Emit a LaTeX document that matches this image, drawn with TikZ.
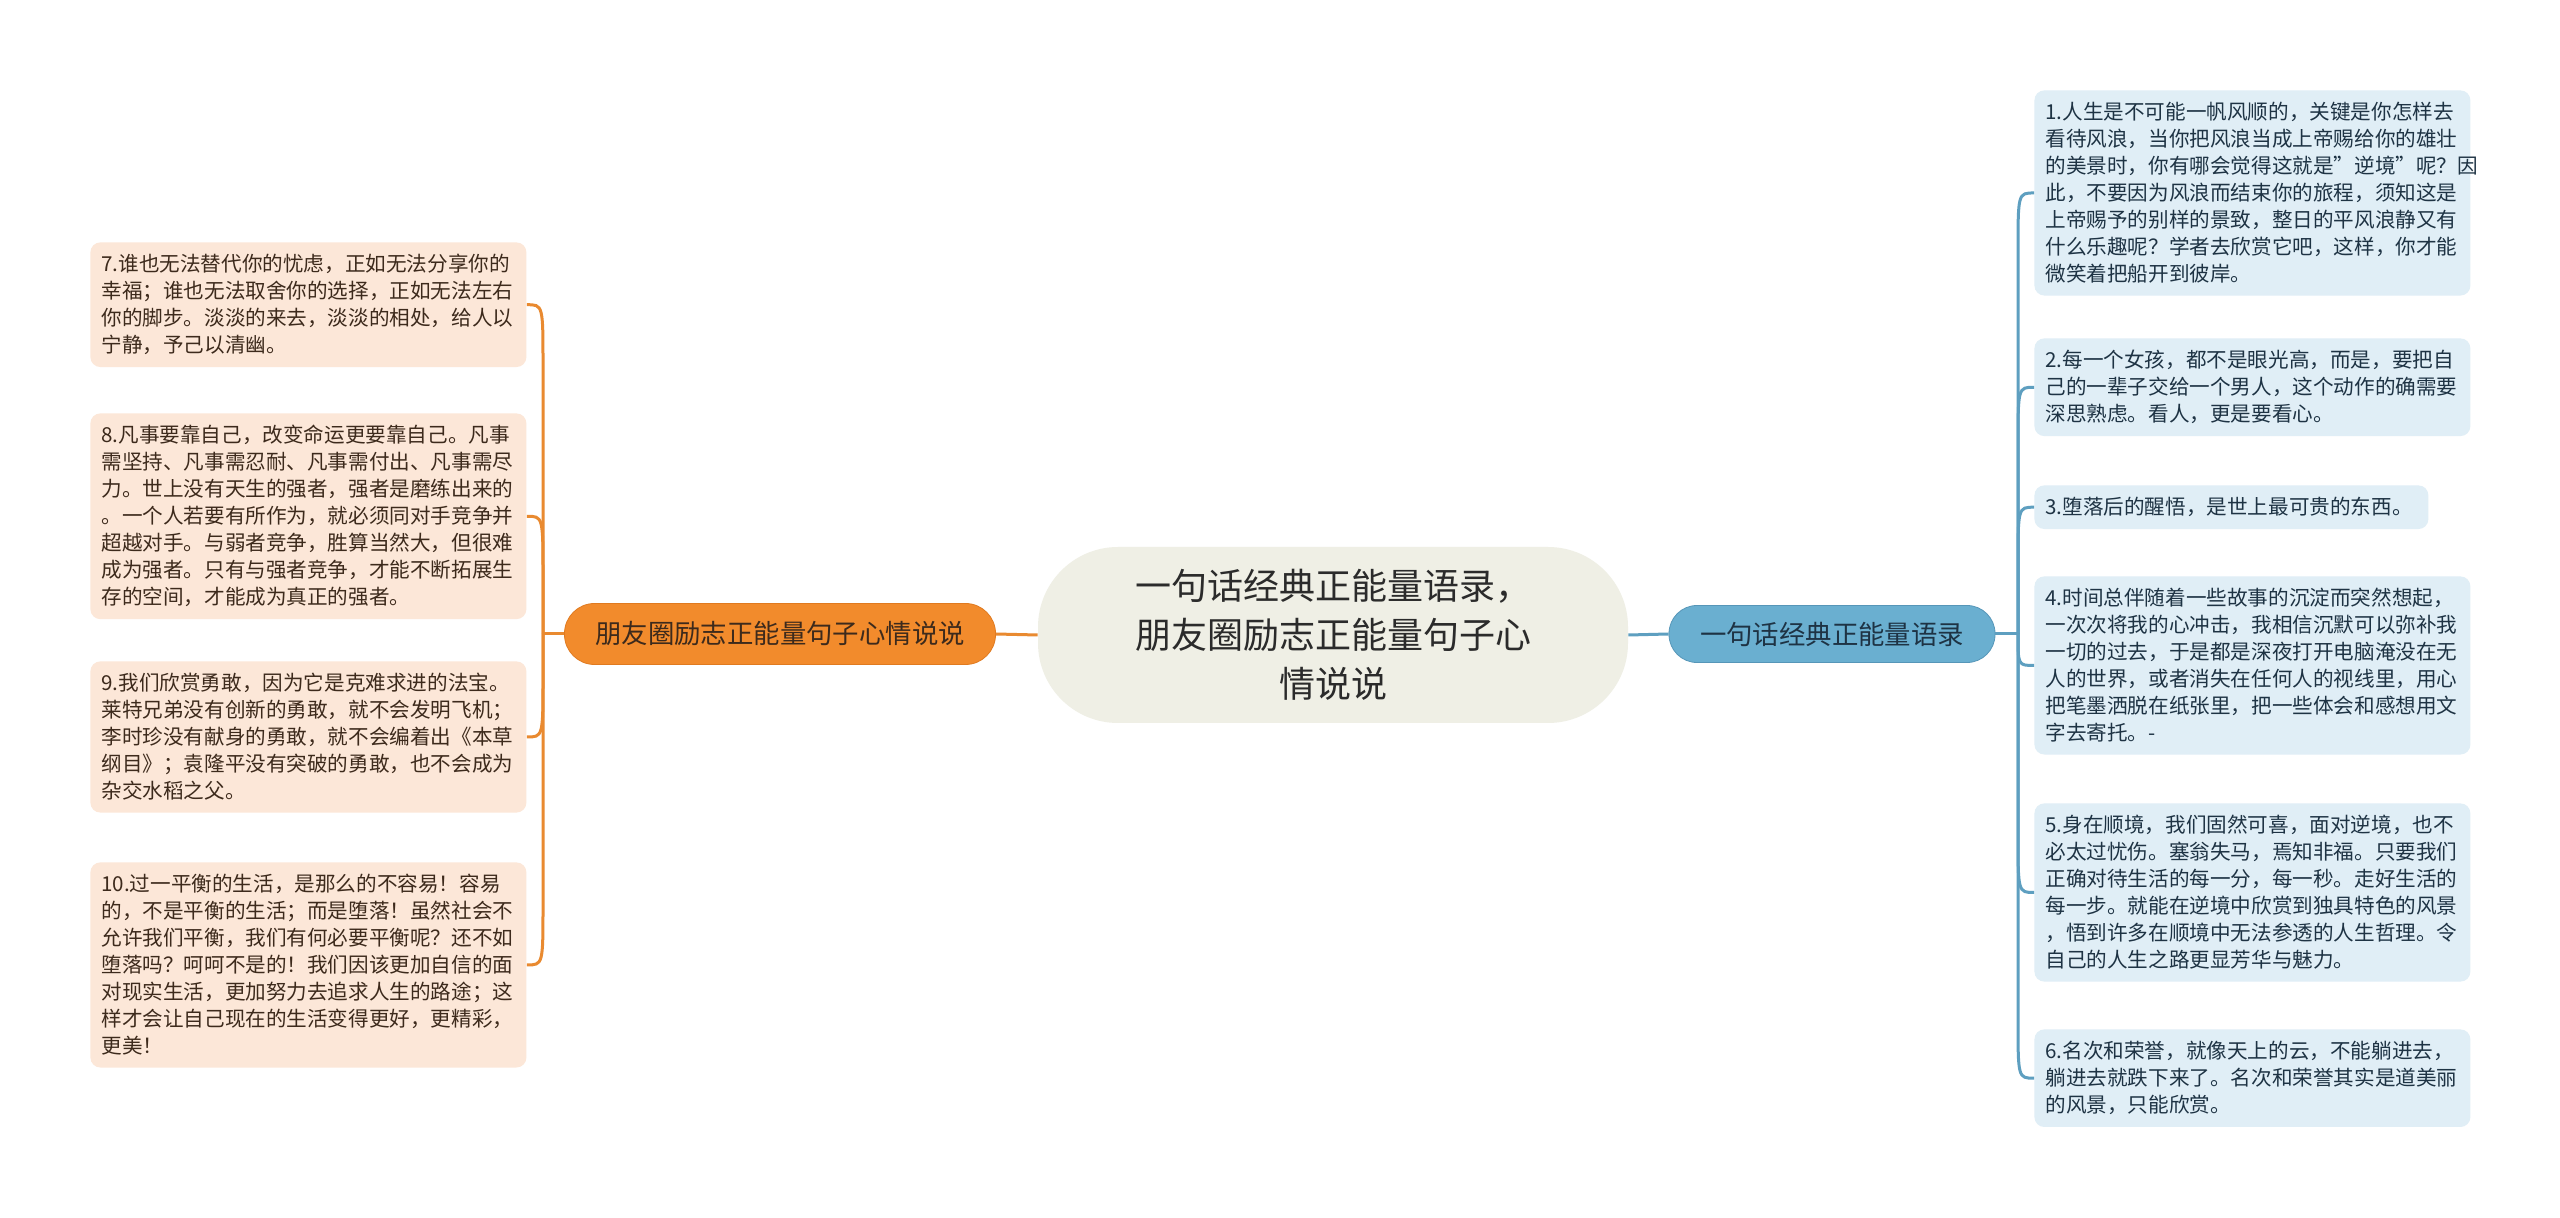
\documentclass[tikz,border=0pt]{standalone}
\usepackage{fontspec}
\setmainfont{Noto Sans CJK SC}
\usepackage{tikz}
\usetikzlibrary{calc}
\usepackage{xcolor}

\definecolor{coregray}{HTML}{EFEFE5}
\definecolor{coretext}{HTML}{2B2B2B}
\definecolor{orangefill}{HTML}{F28B2C}
\definecolor{orangedraw}{HTML}{E07A20}
\definecolor{orangeline}{HTML}{E98A30}
\definecolor{peachfill}{HTML}{FCE7D8}
\definecolor{browntext}{HTML}{3D2A1C}
\definecolor{bluefill}{HTML}{6AAFD0}
\definecolor{bluedraw}{HTML}{5696B8}
\definecolor{blueline}{HTML}{5E9FC0}
\definecolor{icefill}{HTML}{E0EEF6}
\definecolor{navytext}{HTML}{1E3344}

\newcommand{\leaffont}{\fontsize{10.3}{13.5}\selectfont}

\begin{document}
\begin{tikzpicture}[
    x=0.5pt, y=-0.5pt,
    core/.style={
        rectangle, rounded corners=40pt, fill=coregray,
        minimum width=295pt, minimum height=88pt,
        align=center, text=coretext,
        font=\fontsize{18}{24.5}\selectfont
    },
    lmainbox/.style={
        rectangle, rounded corners=15pt, fill=orangefill, draw=orangedraw,
        minimum width=215.5pt, minimum height=30.5pt,
        text=browntext, font=\fontsize{13.2}{16}\selectfont
    },
    rmainbox/.style={
        rectangle, rounded corners=14pt, fill=bluefill, draw=bluedraw,
        minimum width=163pt, minimum height=28.5pt,
        text=navytext, font=\fontsize{13.2}{16}\selectfont
    },
    lleaf/.style={
        rectangle, rounded corners=5pt, fill=peachfill, anchor=north west,
        text width=207pt, inner xsep=5.5pt, inner ysep=6pt,
        align=left, text=browntext, font=\leaffont
    },
    rleaf/.style={
        rectangle, rounded corners=5pt, fill=icefill, anchor=north west,
        text width=207pt, inner xsep=5.5pt, inner ysep=6pt,
        align=left, text=navytext, font=\leaffont
    },
    lline/.style={orangeline, line width=1.5pt},
    rline/.style={blueline, line width=1.5pt},
]

\useasboundingbox[fill=white] (0,0) rectangle (2560,1218);

\node[core] (core) at (1333,635) {一句话经典正能量语录，\\朋友圈励志正能量句子心\\情说说};

\node[lmainbox] (lmain) at (780,634) {朋友圈励志正能量句子心情说说};
\node[rmainbox] (rmain) at (1832,634) {一句话经典正能量语录};

\node[lleaf] (l7) at (90,242) {7.谁也无法替代你的忧虑，正如无法分享你的\\幸福；谁也无法取舍你的选择，正如无法左右\\你的脚步。淡淡的来去，淡淡的相处，给人以\\宁静，予己以清幽。};
\node[lleaf] (l8) at (90,413) {8.凡事要靠自己，改变命运更要靠自己。凡事\\需坚持、凡事需忍耐、凡事需付出、凡事需尽\\力。世上没有天生的强者，强者是磨练出来的\\。一个人若要有所作为，就必须同对手竞争并\\超越对手。与弱者竞争，胜算当然大，但很难\\成为强者。只有与强者竞争，才能不断拓展生\\存的空间，才能成为真正的强者。};
\node[lleaf] (l9) at (90,661) {9.我们欣赏勇敢，因为它是克难求进的法宝。\\莱特兄弟没有创新的勇敢，就不会发明飞机；\\李时珍没有献身的勇敢，就不会编着出《本草\\纲目》；袁隆平没有突破的勇敢，也不会成为\\杂交水稻之父。};
\node[lleaf] (l10) at (90,862) {10.过一平衡的生活，是那么的不容易！容易\\的，不是平衡的生活；而是堕落！虽然社会不\\允许我们平衡，我们有何必要平衡呢？还不如\\堕落吗？呵呵不是的！我们因该更加自信的面\\对现实生活，更加努力去追求人生的路途；这\\样才会让自己现在的生活变得更好，更精彩，\\更美！};

\node[rleaf] (r1) at (2034,90) {1.人生是不可能一帆风顺的，关键是你怎样去\\看待风浪，当你把风浪当成上帝赐给你的雄壮\\的美景时，你有哪会觉得这就是"逆境"呢？因\\此，不要因为风浪而结束你的旅程，须知这是\\上帝赐予的别样的景致，整日的平风浪静又有\\什么乐趣呢？学者去欣赏它吧，这样，你才能\\微笑着把船开到彼岸。};
\node[rleaf] (r2) at (2034,338) {2.每一个女孩，都不是眼光高，而是，要把自\\己的一辈子交给一个男人，这个动作的确需要\\深思熟虑。看人，更是要看心。};
\node[rleaf, text width=186pt] (r3) at (2034,485) {3.堕落后的醒悟，是世上最可贵的东西。};
\node[rleaf] (r4) at (2034,576) {4.时间总伴随着一些故事的沉淀而突然想起，\\一次次将我的心冲击，我相信沉默可以弥补我\\一切的过去，于是都是深夜打开电脑淹没在无\\人的世界，或者消失在任何人的视线里，用心\\把笔墨洒脱在纸张里，把一些体会和感想用文\\字去寄托。-};
\node[rleaf] (r5) at (2034,803) {5.身在顺境，我们固然可喜，面对逆境，也不\\必太过忧伤。塞翁失马，焉知非福。只要我们\\正确对待生活的每一分，每一秒。走好生活的\\每一步。就能在逆境中欣赏到独具特色的风景\\，悟到许多在顺境中无法参透的人生哲理。令\\自己的人生之路更显芳华与魅力。};
\node[rleaf] (r6) at (2034,1029) {6.名次和荣誉，就像天上的云，不能躺进去，\\躺进去就跌下来了。名次和荣誉其实是道美丽\\的风景，只能欣赏。};

\coordinate (ljn) at (543,634);
\coordinate (rjn) at (2018,634);

\draw[lline] (core.west) -- (lmain.east);
\draw[lline] (lmain.west) -- (ljn);
\draw[lline] (ljn) -- ($(ljn |- l7.east)+(0,60)$) .. controls (ljn |- l7.east) .. (l7.east);
\draw[lline] (ljn) -- ($(ljn |- l8.east)+(0,60)$) .. controls (ljn |- l8.east) .. (l8.east);
\draw[lline] (ljn) -- ($(ljn |- l9.east)+(0,-60)$) .. controls (ljn |- l9.east) .. (l9.east);
\draw[lline] (ljn) -- ($(ljn |- l10.east)+(0,-60)$) .. controls (ljn |- l10.east) .. (l10.east);

\draw[rline] (core.east) -- (rmain.west);
\draw[rline] (rmain.east) -- (rjn);
\draw[rline] (rjn) -- ($(rjn |- r1.west)+(0,60)$) .. controls (rjn |- r1.west) .. (r1.west);
\draw[rline] (rjn) -- ($(rjn |- r2.west)+(0,60)$) .. controls (rjn |- r2.west) .. (r2.west);
\draw[rline] (rjn) -- ($(rjn |- r3.west)+(0,60)$) .. controls (rjn |- r3.west) .. (r3.west);
\draw[rline] (rjn) .. controls (rjn |- r4.west) .. (r4.west);
\draw[rline] (rjn) -- ($(rjn |- r5.west)+(0,-60)$) .. controls (rjn |- r5.west) .. (r5.west);
\draw[rline] (rjn) -- ($(rjn |- r6.west)+(0,-60)$) .. controls (rjn |- r6.west) .. (r6.west);

\end{tikzpicture}
\end{document}
